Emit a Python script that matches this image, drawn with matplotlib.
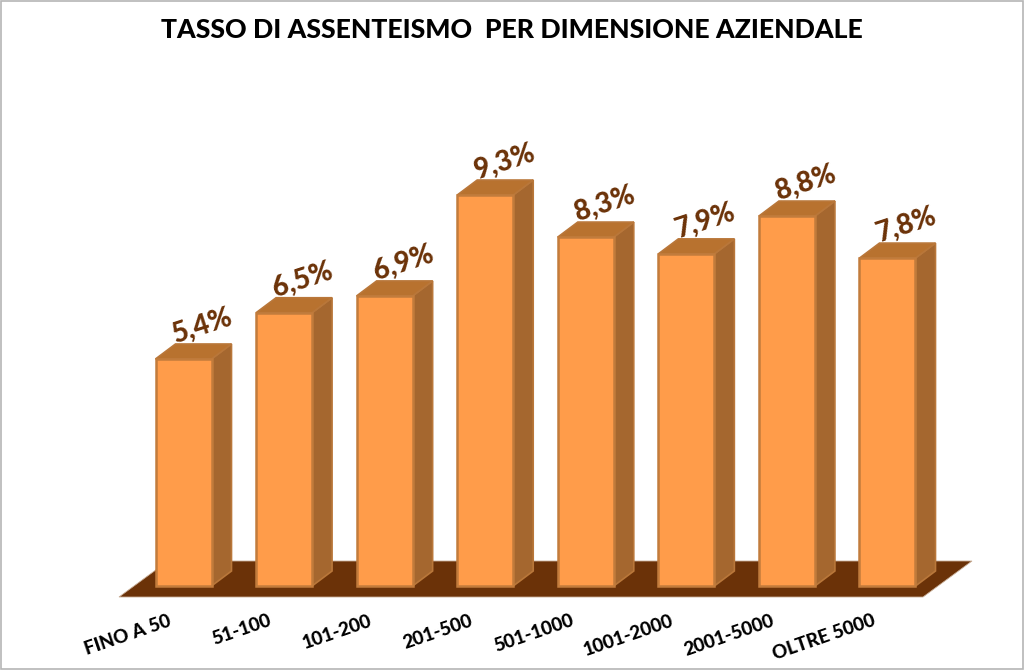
import matplotlib
matplotlib.use('Agg')
import matplotlib.pyplot as plt
from matplotlib.patches import Polygon, Rectangle

categories = ['FINO A 50', '51-100', '101-200', '201-500', '501-1000', '1001-2000', '2001-5000', 'OLTRE 5000']
values = [5.4, 6.5, 6.9, 9.3, 8.3, 7.9, 8.8, 7.8]
value_labels = ['5,4%', '6,5%', '6,9%', '9,3%', '8,3%', '7,9%', '8,8%', '7,8%']

plt.rcParams['font.family'] = ['Lato', 'DejaVu Sans']

W, H = 1024, 670
fig = plt.figure(figsize=(W / 100, H / 100), dpi=100)
ax = fig.add_axes([0, 0, 1, 1])

# one unit in pixels, axes fill the whole figure
ux = 100.57
uy = 42.04
ax.set_xlim(-183.5 / ux, (W - 183.5) / ux)
ax.set_ylim((586 - H) / uy, 586 / uy)
ax.axis('off')

bar_w = 56 / ux
dx = 20 / ux
dy = 15 / uy

# floor
fl = 11 / uy
fr = 49 / ux
floor = Polygon([(-64.5 / ux, -fl), (739.5 / ux, -fl),
                 (739.5 / ux + fr, -fl + 36 / uy), (-64.5 / ux + fr, -fl + 36 / uy)],
                closed=True, facecolor='#6B3208', edgecolor='#C9AE96', linewidth=0.6, zorder=1)
ax.add_patch(floor)

x = list(range(len(values)))
for i, v in zip(x, values):
    r = i + bar_w / 2
    l = i - bar_w / 2
    side = Polygon([(r, 0), (r + dx, dy), (r + dx, v + dy), (r, v)], closed=True,
                   facecolor='#A5672F', edgecolor='#B9773A', linewidth=1.2, zorder=2)
    top = Polygon([(l, v), (l + dx, v + dy), (r + dx, v + dy), (r, v)], closed=True,
                  facecolor='#B8722F', edgecolor='#B9773A', linewidth=1.2, zorder=2)
    ax.add_patch(side)
    ax.add_patch(top)

ax.bar(x, values, width=bar_w, color='#FF9C4A', edgecolor='#C27C3C', linewidth=1.8, zorder=3)

for i, v, s in zip(x, values, value_labels):
    ax.text(i + 19 / ux, v + 33 / uy, s, color='#6B3208', fontsize=20, fontweight='black',
            rotation=18, ha='center', va='center', rotation_mode='anchor', zorder=4)

for i, c in zip(x, categories):
    ax.text(i - 13 / ux, -34 / uy, c, color='black', fontsize=13.6, fontweight='black',
            rotation=19, ha='right', va='center', rotation_mode='anchor', zorder=4)

fig.text(511.5 / W, 1 - 30 / H, 'TASSO DI ASSENTEISMO  PER DIMENSIONE AZIENDALE', color='black',
         fontsize=19.2, fontweight='black', ha='center', va='center')

fig.add_artist(Rectangle((0.5 / W, 1.5 / H), (W - 2) / W, (H - 2) / H, transform=fig.transFigure,
                         fill=False, edgecolor='#B5B5B5', linewidth=1.2))

fig.savefig('out.png', dpi=100)
